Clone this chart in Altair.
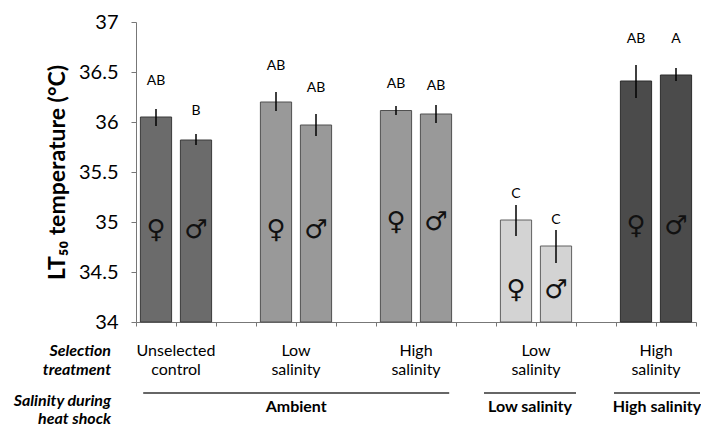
import altair as alt
import pandas as pd

FONT = "Lato, DejaVu Sans, sans-serif"

# ---- data ----
groups = ["Unselected control", "Low salinity (ambient)", "High salinity (ambient)",
          "Low salinity (low)", "High salinity (high)"]
female_mean = [36.05, 36.20, 36.115, 35.02, 36.41]
female_lo = [35.96, 36.11, 36.07, 34.86, 36.24]
female_hi = [36.13, 36.30, 36.16, 35.17, 36.57]
male_mean = [35.82, 35.97, 36.08, 34.76, 36.47]
male_lo = [35.77, 35.86, 35.99, 34.59, 36.41]
male_hi = [35.88, 36.08, 36.17, 34.92, 36.54]
female_letters = ["AB", "AB", "AB", "C", "AB"]
male_letters = ["B", "AB", "AB", "C", "A"]
female_letter_y = [36.41, 36.56, 36.38, 35.28, 36.83]
male_letter_y = [36.11, 36.34, 36.36, 35.02, 36.83]
symbol_y = [34.92, 34.92, 35.0, 34.32, 34.96]

selection_line1 = ["Unselected", "Low", "High", "Low", "High"]
selection_line2 = ["control", "salinity", "salinity", "salinity", "salinity"]

heat_labels = ["Ambient", "Low salinity", "High salinity"]
bracket_start = [0.18, 8.7, 11.95]
bracket_end = [7.83, 11.0, 14.1]

y_ticks = [34, 34.5, 35, 35.5, 36, 36.5, 37]

fills = ["#6b6b6b", "#999999", "#999999", "#d3d3d3", "#4b4b4b"]
strokes = ["#3a3a3a", "#505050", "#505050", "#606060", "#2c2c2c"]

# ---- build tables ----
rows = []
for gi, g in enumerate(groups):
    per_sex = [
        ("F", "\u2640", female_mean[gi], female_lo[gi], female_hi[gi], female_letters[gi], female_letter_y[gi]),
        ("M", "\u2642", male_mean[gi], male_lo[gi], male_hi[gi], male_letters[gi], male_letter_y[gi]),
    ]
    for si, (sex, sym, mean, lo, hi, let, ly) in enumerate(per_sex):
        slot = 3 * gi + si
        rows.append(dict(group=g, sex=sex, symbol=sym, mean=mean, lo=lo, hi=hi,
                         letter=let, letter_y=ly, symbol_y=symbol_y[gi],
                         x0=slot + 0.11, x1=slot + 0.89, xc=slot + 0.5))
df = pd.DataFrame(rows)

cats = pd.DataFrame({"xc": [3 * i + 1 for i in range(len(groups))],
                     "l1": selection_line1, "l2": selection_line2})
brk = pd.DataFrame({"label": heat_labels, "s": bracket_start, "e": bracket_end})
brk["mid"] = (brk["s"] + brk["e"]) / 2

xscale = alt.Scale(domain=[0, 14], nice=False, zero=False)
yscale = alt.Scale(domain=[34, 37], nice=False, zero=False)

xaxis = alt.Axis(values=list(range(15)), labels=False, title=None, grid=False,
                 tickSize=4, domainColor="#777777", tickColor="#777777")
yaxis = alt.Axis(values=y_ticks, labelExpr="'' + datum.value", grid=False,
                 title="LT\u2085\u2080 temperature (\u00b0C)",
                 titleFont=FONT, titleFontSize=23, titleFontWeight="bold", titleColor="black",
                 titleAngle=270, titleX=-72, titleY=150, titleAlign="center",
                 titleBaseline="alphabetic",
                 labelFont=FONT, labelFontSize=20, labelColor="black", labelPadding=13,
                 tickSize=5, domainColor="#777777", tickColor="#777777")

X = lambda f: alt.X(f, scale=xscale, axis=xaxis)
Y = lambda f: alt.Y(f, scale=yscale, axis=yaxis)

base = alt.Chart(df)

bars = base.mark_bar(strokeWidth=1).encode(
    x=X("x0:Q"), x2="x1:Q",
    y=Y("mean:Q"), y2=alt.datum(34),
    fill=alt.Fill("group:N", scale=alt.Scale(domain=groups, range=fills), legend=None),
    stroke=alt.Stroke("group:N", scale=alt.Scale(domain=groups, range=strokes), legend=None),
)

errs = base.mark_rule(color="black", strokeWidth=1.5).encode(
    x=X("xc:Q"), y=Y("lo:Q"), y2="hi:Q")

letters = base.mark_text(font=FONT, fontSize=14, color="black", baseline="middle").encode(
    x=X("xc:Q"), y=Y("letter_y:Q"), text="letter:N")

symbols = base.mark_text(font="DejaVu Sans", fontSize=26, color="#111111", baseline="middle").encode(
    x=X("xc:Q"), y=Y("symbol_y:Q"), text="symbol:N")

cat1 = alt.Chart(cats).mark_text(font=FONT, fontSize=16, color="black", baseline="middle").encode(
    x=X("xc:Q"), y=alt.value(329), text="l1:N")
cat2 = alt.Chart(cats).mark_text(font=FONT, fontSize=16, color="black", baseline="middle").encode(
    x=X("xc:Q"), y=alt.value(348), text="l2:N")

brules = alt.Chart(brk).mark_rule(color="#666666", strokeWidth=2).encode(
    x=X("s:Q"), x2="e:Q", y=alt.value(371))
btext = alt.Chart(brk).mark_text(font=FONT, fontSize=16, fontWeight="bold", color="black",
                                 baseline="middle").encode(
    x=X("mid:Q"), y=alt.value(385), text="label:N")


def header(txt, ypix):
    return alt.Chart(pd.DataFrame({"t": [txt]})).mark_text(
        font=FONT, fontSize=16, fontWeight="bold", fontStyle="italic", color="black",
        align="right", baseline="middle").encode(x=alt.value(-25), y=alt.value(ypix), text="t:N")


heads = [header("Selection", 329), header("treatment", 348),
         header("Salinity during", 379), header("heat shock", 397)]

chart = alt.layer(bars, errs, letters, symbols, cat1, cat2, brules, btext, *heads).properties(
    width=560, height=300,
    autosize=alt.AutoSizeParams(type="none"),
    padding={"left": 128, "top": 14, "right": 5, "bottom": 106},
).configure_view(stroke=None)

chart.save("out.html", embed_options={"renderer": "svg", "actions": False})
